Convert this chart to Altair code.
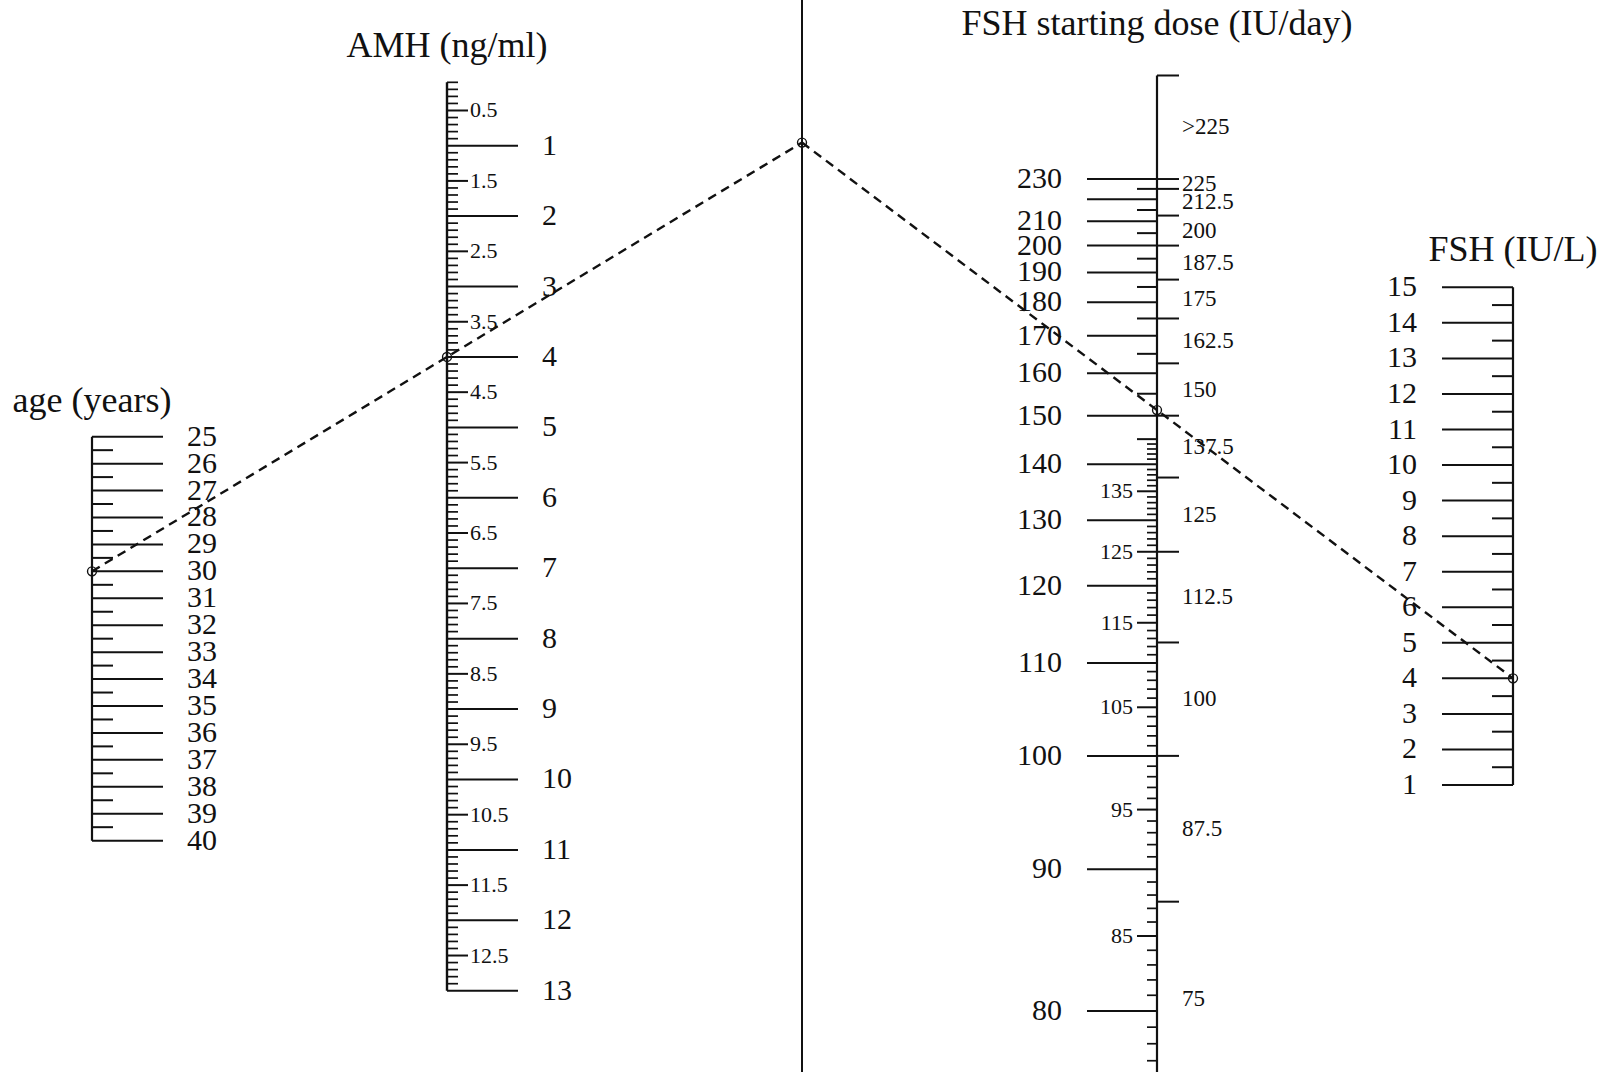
import altair as alt
import pandas as pd

W, H = 1605, 1072
FONT = "Liberation Serif"
INK = "#111111"

# ---------------- data ----------------
AGE_MAJOR = [25, 26, 27, 28, 29, 30, 31, 32, 33, 34, 35, 36, 37, 38, 39, 40]
AGE_MINOR = [25.5, 26.5, 27.5, 28.5, 29.5, 30.5, 31.5, 32.5, 33.5, 34.5,
             35.5, 36.5, 37.5, 38.5, 39.5]

AMH_MAJOR = [1, 2, 3, 4, 5, 6, 7, 8, 9, 10, 11, 12, 13]
AMH_HALF = [0.5, 1.5, 2.5, 3.5, 4.5, 5.5, 6.5, 7.5, 8.5, 9.5, 10.5, 11.5, 12.5]
AMH_MINOR = [i / 10 for i in range(1, 131) if i % 5 != 0]
AMH_RANGE = [0.1, 13]

DOSE_MAJOR = [80, 90, 100, 110, 120, 130, 140, 150, 160, 170, 180, 190, 200, 210, 220, 230]
DOSE_MAJOR_LABELS = ["80", "90", "100", "110", "120", "130", "140", "150", "160",
                     "170", "180", "190", "200", "210", "", "230"]
DOSE_MID = [85, 95, 105, 115, 125, 135, 145, 155, 165, 175, 185, 195, 205, 215, 225]
DOSE_MID_LABELS = ["85", "95", "105", "115", "125", "135", "", "", "", "", "", "", "", "", ""]
DOSE_MINOR = [v for v in range(77, 145) if v % 5 != 0]
DOSE_BANDS = [75, 87.5, 100, 112.5, 125, 137.5, 150, 162.5, 175, 187.5, 200, 212.5, 225, 230, 300]
DOSE_BAND_LABELS = ["75", "87.5", "100", "112.5", "125", "137.5", "150", "162.5",
                    "175", "187.5", "200", "212.5", "225", ">225"]
DOSE_TOP = 300

FSH_MAJOR = [1, 2, 3, 4, 5, 6, 7, 8, 9, 10, 11, 12, 13, 14, 15]
FSH_MINOR = [1.5, 2.5, 3.5, 4.5, 5.5, 6.5, 7.5, 8.5, 9.5, 10.5, 11.5, 12.5, 13.5, 14.5]

EXAMPLE_AGE = 30
EXAMPLE_AMH = 4
EXAMPLE_FSH = 4

TITLES = ["age (years)", "AMH (ng/ml)", "FSH starting dose (IU/day)", "FSH (IU/L)"]

# ---------------- nomogram geometry (axis scales) ----------------
X_AGE, X_AMH, X_MID, X_DOSE, X_FSH = 92, 447, 802, 1157, 1513


def y_age(v):
    return 436.7 + (v - 25) * 26.93


def y_amh(v):
    return 145.7 + (v - 1) * 70.42


def y_dose(v):
    return -264.7 + 102058.0 / v


def y_fsh(v):
    return 287.3 + (15 - v) * 35.55


segs = []


def seg(x, x2, y, y2, w=2.0):
    segs.append(dict(x=x, x2=x2, y=y, y2=y2, w=w))


texts = {}


def txt(key, x, y, t):
    texts.setdefault(key, []).append(dict(x=x, y=y, text=t))


# age axis
seg(X_AGE, X_AGE, y_age(AGE_MAJOR[0]), y_age(AGE_MAJOR[-1]), 2.2)
for v in AGE_MAJOR:
    seg(X_AGE, X_AGE + 71, y_age(v), y_age(v))
    txt("big_left", X_AGE + 95, y_age(v), str(v))
for v in AGE_MINOR:
    seg(X_AGE, X_AGE + 21, y_age(v), y_age(v))

# AMH axis
seg(X_AMH, X_AMH, y_amh(AMH_RANGE[0]), y_amh(AMH_RANGE[1]), 2.4)
for v in AMH_MAJOR:
    seg(X_AMH, X_AMH + 71, y_amh(v), y_amh(v))
    txt("big_left", X_AMH + 95, y_amh(v), str(v))
for v in AMH_HALF:
    seg(X_AMH, X_AMH + 21, y_amh(v), y_amh(v))
    txt("small_left", X_AMH + 23, y_amh(v), f"{v:g}")
for v in AMH_MINOR:
    seg(X_AMH, X_AMH + 11, y_amh(v), y_amh(v), 1.7)

# turning (reference) line
seg(X_MID, X_MID, 0, H, 2.0)

# dose axis
seg(X_DOSE, X_DOSE, y_dose(DOSE_TOP), H, 2.2)
seg(X_DOSE, X_DOSE + 22, y_dose(DOSE_TOP), y_dose(DOSE_TOP))
for v, lab in zip(DOSE_MAJOR, DOSE_MAJOR_LABELS):
    seg(X_DOSE - 70, X_DOSE, y_dose(v), y_dose(v))
    if lab:
        txt("big_right", X_DOSE - 95, y_dose(v), lab)
for v, lab in zip(DOSE_MID, DOSE_MID_LABELS):
    seg(X_DOSE - 20, X_DOSE, y_dose(v), y_dose(v))
    if lab:
        txt("mid_right", X_DOSE - 24, y_dose(v), lab)
for v in DOSE_MINOR:
    seg(X_DOSE - 10, X_DOSE, y_dose(v), y_dose(v), 1.7)
for v in DOSE_BANDS[:-1]:
    if y_dose(v) <= H:
        seg(X_DOSE, X_DOSE + 22, y_dose(v), y_dose(v))
for lo, hi, lab in zip(DOSE_BANDS[:-1], DOSE_BANDS[1:], DOSE_BAND_LABELS):
    txt("band_left", X_DOSE + 25, (y_dose(lo) + y_dose(hi)) / 2, lab)

# FSH axis
seg(X_FSH, X_FSH, y_fsh(FSH_MAJOR[-1]), y_fsh(FSH_MAJOR[0]), 2.2)
for v in FSH_MAJOR:
    seg(X_FSH - 71, X_FSH, y_fsh(v), y_fsh(v))
    txt("big_right", X_FSH - 96, y_fsh(v), str(v))
for v in FSH_MINOR:
    seg(X_FSH - 21, X_FSH, y_fsh(v), y_fsh(v))

# titles (centred over each scale)
txt("title", X_AGE, y_age(AGE_MAJOR[0]) - 25, TITLES[0])
txt("title", X_AMH, y_amh(AMH_RANGE[0]) - 25, TITLES[1])
txt("title", X_DOSE, y_dose(DOSE_TOP) - 40, TITLES[2])
txt("title", X_FSH, y_fsh(FSH_MAJOR[-1]) - 26, TITLES[3])

# worked example: age -> AMH -> turning line -> FSH, reading dose
pa = (X_AGE, y_age(EXAMPLE_AGE))
pb = (X_AMH, y_amh(EXAMPLE_AMH))
slope = (pb[1] - pa[1]) / (pb[0] - pa[0])
pm = (X_MID, pa[1] + slope * (X_MID - pa[0]))
pf = (X_FSH, y_fsh(EXAMPLE_FSH))
pd_ = (X_DOSE, pm[1] + (pf[1] - pm[1]) * (X_DOSE - pm[0]) / (pf[0] - pm[0]))
dash = pd.DataFrame([
    dict(x=pa[0], x2=pm[0], y=pa[1], y2=pm[1]),
    dict(x=pm[0], x2=pf[0], y=pm[1], y2=pf[1]),
])
pts = pd.DataFrame([dict(x=p[0], y=p[1]) for p in (pa, pb, pm, pd_, pf)])

# ---------------- chart ----------------
xs = alt.Scale(domain=[0, W], nice=False, zero=False)
ys = alt.Scale(domain=[0, H], nice=False, zero=False, reverse=True)
X = alt.X("x:Q", scale=xs, axis=None)
Y = alt.Y("y:Q", scale=ys, axis=None)

rules = alt.Chart(pd.DataFrame(segs)).mark_rule(color=INK, strokeCap="butt").encode(
    x=X, x2="x2:Q", y=Y, y2="y2:Q",
    strokeWidth=alt.StrokeWidth("w:Q", scale=None),
)

dashes = alt.Chart(dash).mark_rule(
    color=INK, strokeWidth=2.4, strokeDash=[9, 6], strokeCap="butt"
).encode(x=X, x2="x2:Q", y=Y, y2="y2:Q")

circles = alt.Chart(pts).mark_point(
    shape="circle", filled=False, size=80, color=INK, strokeWidth=1.4, opacity=1
).encode(x=X, y=Y)

styles = {
    "big_left": dict(fontSize=30, align="left", baseline="middle"),
    "big_right": dict(fontSize=30, align="right", baseline="middle"),
    "small_left": dict(fontSize=22, align="left", baseline="middle"),
    "mid_right": dict(fontSize=22, align="right", baseline="middle"),
    "band_left": dict(fontSize=23, align="left", baseline="middle"),
    "title": dict(fontSize=36, align="center", baseline="alphabetic"),
}
text_layers = []
for key, st in styles.items():
    text_layers.append(
        alt.Chart(pd.DataFrame(texts[key])).mark_text(font=FONT, color=INK, **st).encode(
            x=X, y=Y, text="text:N"
        )
    )

chart = alt.layer(rules, dashes, circles, *text_layers).properties(
    width=W, height=H, padding=0, autosize="none", background="white"
).configure_view(stroke=None)

chart.save("out.html", embed_options={"renderer": "svg", "actions": False})
